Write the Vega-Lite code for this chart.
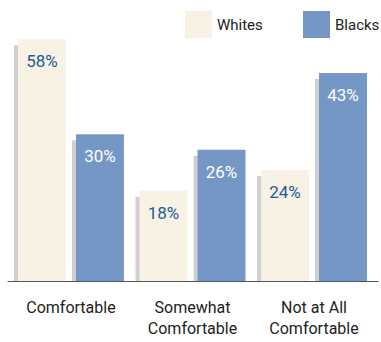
{
  "$schema": "https://vega.github.io/schema/vega-lite/v6.json",
  "width": 371,
  "height": 279,
  "padding": {"left": 7, "top": 2, "right": 0, "bottom": 0},
  "background": "white",
  "config": {
    "view": {"stroke": null},
    "font": "Roboto, sans-serif"
  },
  "data": {
    "values": [
      {"cat": "Comfortable", "group": "Whites", "pct": "58%", "h": 49.4},
      {"cat": "Comfortable", "group": "Blacks", "pct": "30%", "h": 30.0},
      {"cat": "Somewhat|Comfortable", "group": "Whites", "pct": "18%", "h": 18.4},
      {"cat": "Somewhat|Comfortable", "group": "Blacks", "pct": "26%", "h": 26.8},
      {"cat": "Not at All|Comfortable", "group": "Whites", "pct": "24%", "h": 22.7},
      {"cat": "Not at All|Comfortable", "group": "Blacks", "pct": "43%", "h": 42.5}
    ]
  },
  "resolve": {"scale": {"x": "independent", "y": "independent"}},
  "layer": [
    {
      "mark": {"type": "bar", "color": "#d0d0d0"},
      "encoding": {
        "x": {
          "field": "cat",
          "type": "nominal",
          "sort": ["Comfortable", "Somewhat|Comfortable", "Not at All|Comfortable"],
          "scale": {"paddingInner": 0.128, "paddingOuter": 0.0905, "align": 0.319},
          "axis": null
        },
        "xOffset": {
          "field": "group",
          "type": "nominal",
          "sort": ["Whites", "Blacks"],
          "scale": {"paddingInner": 0.172, "paddingOuter": 0}
        },
        "y": {
          "field": "h",
          "type": "quantitative",
          "scale": {"domain": [1.23, 58.23], "nice": false, "zero": false, "clamp": true},
          "axis": null
        }
      }
    },
    {
      "encoding": {
        "x": {
          "field": "cat",
          "type": "nominal",
          "sort": ["Comfortable", "Somewhat|Comfortable", "Not at All|Comfortable"],
          "scale": {"paddingInner": 0.128, "paddingOuter": 0.0905},
          "axis": {
            "title": null,
            "ticks": false,
            "labelAngle": 0,
            "labelExpr": "split(datum.value, '|')",
            "labelFontSize": 16,
            "labelLineHeight": 21,
            "labelPadding": 18,
            "labelColor": "#222222",
            "domainColor": "#555555",
            "domainWidth": 1.2
          }
        },
        "xOffset": {
          "field": "group",
          "type": "nominal",
          "sort": ["Whites", "Blacks"],
          "scale": {"paddingInner": 0.172, "paddingOuter": 0}
        },
        "y": {
          "field": "h",
          "type": "quantitative",
          "scale": {"domain": [0, 57], "nice": false},
          "axis": null
        }
      },
      "layer": [
        {
          "mark": {"type": "bar"},
          "encoding": {
            "color": {
              "field": "group",
              "type": "nominal",
              "sort": ["Whites", "Blacks"],
              "scale": {"domain": ["Whites", "Blacks"], "range": ["#f7f2e4", "#7597c5"]},
              "legend": {
                "title": null,
                "orient": "none",
                "legendX": 178,
                "legendY": 9,
                "direction": "horizontal",
                "symbolType": "square",
                "symbolSize": 729,
                "symbolStrokeWidth": 0,
                "symbolOpacity": 1,
                "labelFontSize": 15,
                "labelColor": "#222222",
                "labelOffset": 5,
                "columnPadding": 40,
                "padding": 0
              }
            }
          }
        },
        {
          "mark": {"type": "text", "baseline": "top", "dy": 15, "fontSize": 17},
          "encoding": {
            "text": {"field": "pct"},
            "color": {
              "condition": {"test": "datum.group === 'Whites'", "value": "#1f5b9b"},
              "value": "#ffffff"
            }
          }
        }
      ]
    }
  ]
}
